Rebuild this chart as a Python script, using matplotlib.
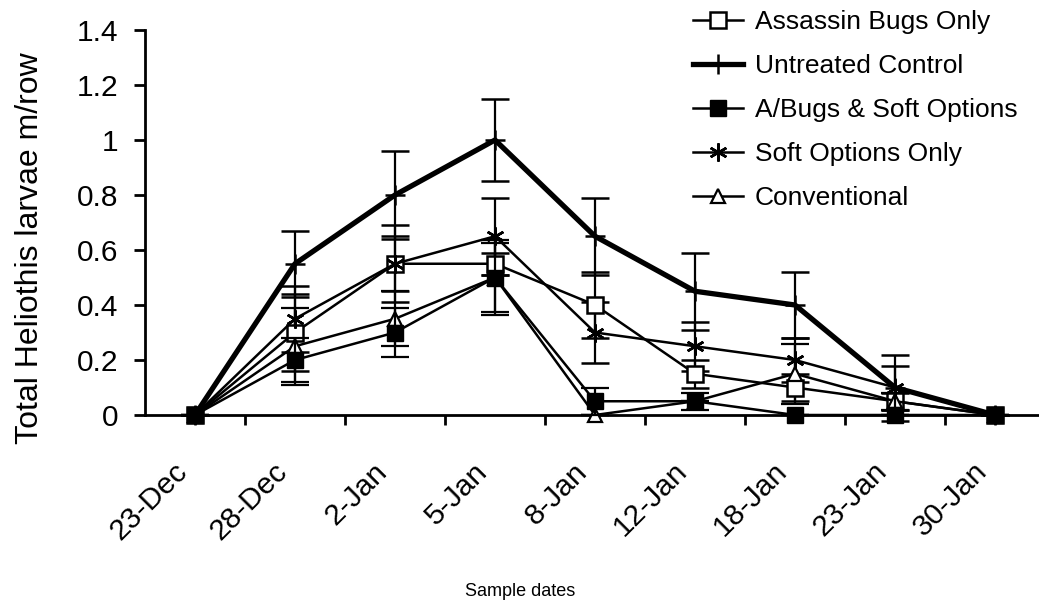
import matplotlib
matplotlib.use('Agg')
import matplotlib.pyplot as plt
import matplotlib.transforms as mtransforms
import numpy as np

plt.rcParams['font.family'] = ['Liberation Sans', 'DejaVu Sans']

# Sample dates and mean larvae counts per treatment
dates = ['23-Dec', '28-Dec', '2-Jan', '5-Jan', '8-Jan', '12-Jan', '18-Jan', '23-Jan', '30-Jan']

assassin = [0, 0.30, 0.55, 0.55, 0.40, 0.15, 0.10, 0.05, 0]
control = [0, 0.55, 0.80, 1.00, 0.65, 0.45, 0.40, 0.10, 0]
bugs_soft = [0, 0.20, 0.30, 0.50, 0.05, 0.05, 0.00, 0.00, 0]
soft_only = [0, 0.35, 0.55, 0.65, 0.30, 0.25, 0.20, 0.10, 0]
conventional = [0, 0.25, 0.35, 0.50, 0.00, 0.05, 0.15, 0.05, 0]

# Standard errors
assassin_err = [0, 0.14, 0.10, 0.04, 0.12, 0.05, 0.05, 0.03, 0]
control_err = [0, 0.12, 0.16, 0.15, 0.14, 0.14, 0.12, 0.12, 0]
bugs_soft_err = [0, 0.08, 0.09, 0.125, 0.05, 0.03, 0, 0, 0]
soft_only_err = [0, 0.12, 0.14, 0.14, 0.11, 0.09, 0.08, 0.08, 0]
conventional_err = [0, 0.14, 0.10, 0.135, 0, 0, 0.11, 0.03, 0]

fig = plt.figure(figsize=(10.39, 6.02), dpi=100)
ax = fig.add_axes([145 / 1039, 187 / 602, 900 / 1039, 385 / 602])

x = np.arange(len(dates))
ekw = dict(ecolor='black', elinewidth=1.6, capsize=10, capthick=1.6, clip_on=False)

ax.errorbar(x, assassin, yerr=assassin_err, color='black', lw=1.8, marker='s', ms=11.5,
            mfc='white', mec='black', mew=1.8, label='Assassin Bugs Only', zorder=3, **ekw)
ax.errorbar(x, control, yerr=control_err, color='black', lw=3.8, marker='+', ms=14,
            mew=1.8, label='Untreated Control', zorder=4, **ekw)
ax.errorbar(x, bugs_soft, yerr=bugs_soft_err, color='black', lw=1.8, marker='s', ms=12,
            mfc='black', mec='black', label='A/Bugs & Soft Options', zorder=5, **ekw)
ax.errorbar(x, soft_only, yerr=soft_only_err, color='black', lw=1.8, marker=(6, 2, 0), ms=13,
            mew=1.8, label='Soft Options Only', zorder=3, **ekw)
ax.errorbar(x, conventional, yerr=conventional_err, color='black', lw=1.8, marker='^', ms=10,
            mfc='white', mec='black', mew=1.6, label='Conventional', zorder=3, **ekw)

ax.set_xlim(-0.5, len(dates) - 0.5)
ax.set_ylim(0, 1.4)
ax.set_yticks(np.arange(0, 1.41, 0.2))
ax.set_yticklabels(['0', '0.2', '0.4', '0.6', '0.8', '1', '1.2', '1.4'])
ax.set_xticks(x)
ax.set_xticklabels(dates, rotation=45, ha='right', va='center', rotation_mode='anchor')
ax.set_xticks(np.arange(0.5, len(dates), 1), minor=True)

for side in ['top', 'right']:
    ax.spines[side].set_visible(False)
for side in ['left', 'bottom']:
    ax.spines[side].set_linewidth(2)

ax.tick_params(axis='y', direction='out', length=8, width=2, pad=11, labelsize=21.5)
ax.tick_params(axis='x', which='major', length=0, pad=0, labelsize=21.5)
ax.tick_params(axis='x', which='minor', direction='out', length=7, width=2)

offset = mtransforms.ScaledTranslation(-12 / 100, -52 / 100, fig.dpi_scale_trans)
for lbl in ax.get_xticklabels():
    lbl.set_transform(lbl.get_transform() + offset)

fig.text(30 / 1039, 1 - 248 / 602, 'Total Heliothis larvae m/row', rotation=90,
         ha='center', va='center', fontsize=23)
fig.text(520 / 1039, 1 - 592 / 602, 'Sample dates', ha='center', va='center', fontsize=13)

handles, labels = ax.get_legend_handles_labels()
handles = [h[0] for h in handles]
fig.legend(handles, labels, loc='upper left', bbox_to_anchor=(693 / 1039, 1 - 10 / 602),
           frameon=False, fontsize=19, borderpad=0, borderaxespad=0,
           handlelength=1.9, handletextpad=0.45, labelspacing=0.76)

fig.savefig('out.png', dpi=100)
